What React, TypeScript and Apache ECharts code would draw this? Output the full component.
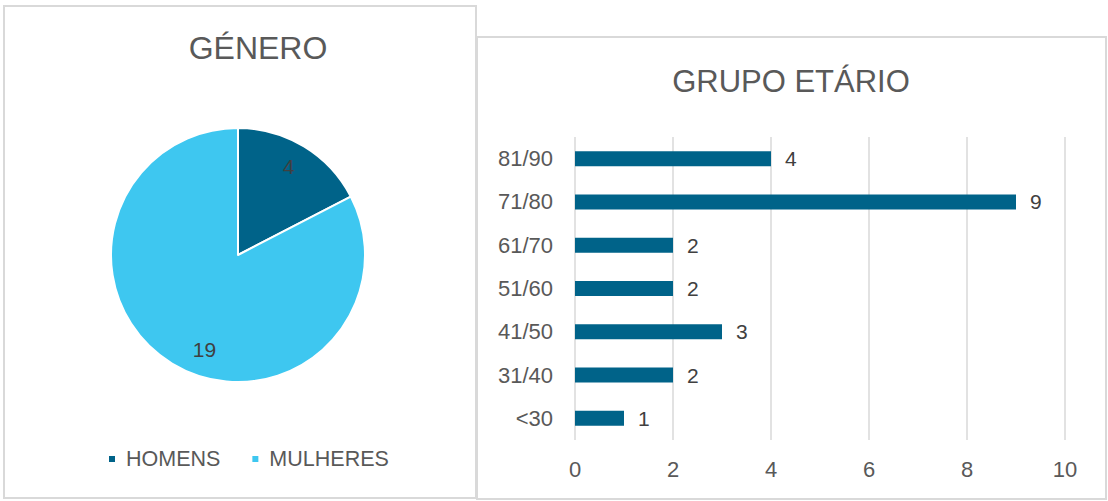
import React, { useEffect, useRef } from 'react';
import * as echarts from 'echarts';

const genderNames = ['HOMENS', 'MULHERES'];
const genderValues = [4, 19];
const genderColors = ['#006389', '#3EC7F0'];

const ageGroups = ['<30', '31/40', '41/50', '51/60', '61/70', '71/80', '81/90'];
const ageCounts = [1, 2, 3, 2, 2, 9, 4];
const xMin = 0;
const xMax = 10;
const xInterval = 2;

const FONT = '"Liberation Sans", Arial, sans-serif';

export default function App() {
  const ref = useRef<HTMLDivElement>(null);
  useEffect(() => {
    const chart = echarts.init(ref.current!, null, { renderer: 'svg' });
    chart.setOption({
      animation: false,
      textStyle: { fontFamily: FONT },
      graphic: [
        {
          type: 'rect', silent: true,
          shape: { x: 4, y: 6, width: 472, height: 492 },
          style: { fill: 'none', stroke: '#D9D9D9', lineWidth: 2 },
        },
        {
          type: 'rect', silent: true,
          shape: { x: 477, y: 37, width: 629, height: 462 },
          style: { fill: 'none', stroke: '#D9D9D9', lineWidth: 2 },
        },
        {
          type: 'text', x: 258, y: 48,
          style: { text: 'GÉNERO', fill: '#595959', fontSize: 32, fontFamily: FONT, align: 'center', verticalAlign: 'middle' },
        },
        {
          type: 'text', x: 791, y: 81,
          style: { text: 'GRUPO ETÁRIO', fill: '#595959', fontSize: 31, fontFamily: FONT, align: 'center', verticalAlign: 'middle' },
        },
      ],
      legend: {
        left: 102, top: 443,
        data: genderNames,
        icon: 'rect', itemWidth: 8, itemHeight: 8, itemGap: 30,
        selectedMode: false,
        textStyle: { fontSize: 21.5, color: '#595959', padding: [0, 0, 0, 5] },
      },
      grid: { left: 575, right: 43, top: 137, bottom: 61 },
      xAxis: {
        type: 'value', min: xMin, max: xMax, interval: xInterval,
        axisLine: { show: false }, axisTick: { show: false },
        splitLine: { show: true, lineStyle: { color: '#D9D9D9', width: 1.5 } },
        axisLabel: { margin: 18, fontSize: 22, color: '#595959' },
      },
      yAxis: {
        type: 'category', data: ageGroups,
        axisLine: { show: false }, axisTick: { show: false },
        axisLabel: { margin: 22, fontSize: 22, color: '#595959' },
      },
      series: [
        {
          type: 'pie', center: [238, 255], radius: [0, 127], startAngle: 90, clockwise: true,
          data: genderNames.map((n, i) => ({ name: n, value: genderValues[i], itemStyle: { color: genderColors[i] } })),
          itemStyle: { borderColor: '#fff', borderWidth: 2 },
          label: { show: false }, labelLine: { show: false },
          emphasis: { disabled: true },
        },
        {
          type: 'pie', center: [238, 255], radius: [60, 140], startAngle: 90, clockwise: true,
          silent: true,
          data: genderValues.map((v, i) => ({ value: v, label: i === 1 ? { offset: [20, 6] } : { offset: [-3, 0] } })),
          itemStyle: { color: 'transparent' },
          label: { show: true, position: 'inside', formatter: '{c}', fontSize: 21, color: '#404040' },
          labelLine: { show: false },
          emphasis: { disabled: true },
        },
        {
          type: 'bar', data: ageCounts, barWidth: 15,
          itemStyle: { color: '#006389' },
          label: { show: true, position: 'right', distance: 14, fontSize: 21, color: '#404040' },
          emphasis: { disabled: true },
        },
      ],
    });
    return () => chart.dispose();
  }, []);
  return (
    <div
      ref={ref}
      style={{ position: 'fixed', left: 0, top: 0, width: 1108, height: 501, background: '#fff' }}
    />
  );
}
